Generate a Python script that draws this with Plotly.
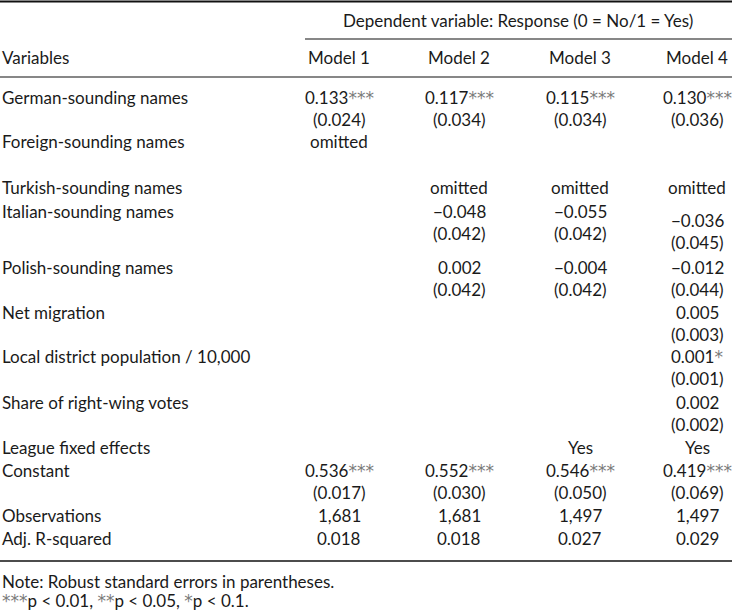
import plotly.graph_objects as go

# ---------------- data ----------------
dep_title = "Dependent variable: Response (0 = No/1 = Yes)"
header_var = "Variables"
models = ["Model 1", "Model 2", "Model 3", "Model 4"]
variables = [
    "German-sounding names",
    "Foreign-sounding names",
    "Turkish-sounding names",
    "Italian-sounding names",
    "Polish-sounding names",
    "Net migration",
    "Local district population / 10,000",
    "Share of right-wing votes",
    "League fixed effects",
    "Constant",
    "Observations",
    "Adj. R-squared",
]
m1_coef = ["0.133", "omitted", "", "", "", "", "", "", "", "0.536", "1,681", "0.018"]
m1_star = ["***", "", "", "", "", "", "", "", "", "***", "", ""]
m1_se = ["0.024", "", "", "", "", "", "", "", "", "0.017", "", ""]

m2_coef = ["0.117", "", "omitted", "\u22120.048", "0.002", "", "", "", "", "0.552", "1,681", "0.018"]
m2_star = ["***", "", "", "", "", "", "", "", "", "***", "", ""]
m2_se = ["0.034", "", "", "0.042", "0.042", "", "", "", "", "0.030", "", ""]

m3_coef = ["0.115", "", "omitted", "\u22120.055", "\u22120.004", "", "", "", "Yes", "0.546", "1,497", "0.027"]
m3_star = ["***", "", "", "", "", "", "", "", "", "***", "", ""]
m3_se = ["0.034", "", "", "0.042", "0.042", "", "", "", "", "0.050", "", ""]

m4_coef = ["0.130", "", "omitted", "\u22120.036", "\u22120.012", "0.005", "0.001", "0.002", "Yes", "0.419", "1,497", "0.029"]
m4_star = ["***", "", "", "", "", "", "*", "", "", "***", "", ""]
m4_se = ["0.036", "", "", "0.045", "0.044", "0.003", "0.001", "0.002", "", "0.069", "", ""]

note_text = "Note: Robust standard errors in parentheses."
sig_levels = [("***", "p < 0.01"), ("**", "p < 0.05"), ("*", "p < 0.1")]

# ---------------- layout ----------------
W, H = 732, 610
FONT = "Lato, 'Open Sans', sans-serif"
FS = 17
STAR_STYLE = "color:#7a7a7a;font-family:DejaVu Sans"

row_y = [97, 141, 187, 211, 267, 312, 356, 402, 447, 470, 515, 538]
se_gap = 22
col_x = [339, 459, 580, 697]
# model 4 Italian row sits lower in the original
cell_y_shift = {(3, 3): 9}

def stars(s):
    return f"<span style='{STAR_STYLE}'>{s}</span>" if s else ""

ann = []

def add(text, x, y, anchor="center"):
    ann.append(dict(text=text, x=x, y=y, xref="x", yref="y", xanchor=anchor,
                    yanchor="middle", showarrow=False,
                    font=dict(family=FONT, size=FS, color="#1a1a1a")))

add(dep_title, 518, 20)
add(header_var, 0, 57, "left")
for j, m in enumerate(models):
    add(m, col_x[j], 57)

for i, v in enumerate(variables):
    add(v, 0, row_y[i], "left")

cols = [(m1_coef, m1_star, m1_se), (m2_coef, m2_star, m2_se),
        (m3_coef, m3_star, m3_se), (m4_coef, m4_star, m4_se)]
for j, (coef, star, se) in enumerate(cols):
    for i in range(len(variables)):
        dy = cell_y_shift.get((j, i), 0)
        if coef[i]:
            add(coef[i] + stars(star[i]), col_x[j], row_y[i] + dy)
        if se[i]:
            add(f"({se[i]})", col_x[j], row_y[i] + dy + se_gap)

add(note_text, 0, 581, "left")
add(", ".join(stars(s) + p for s, p in sig_levels) + ".", 0, 600, "left")

shapes = [
    dict(type="line", x0=0, x1=W, y0=1.5, y1=1.5, line=dict(color="#111", width=2)),
    dict(type="line", x0=305, x1=W, y0=39, y1=39, line=dict(color="#111", width=1.2)),
    dict(type="line", x0=0, x1=W, y0=77, y1=77, line=dict(color="#111", width=1.2)),
    dict(type="line", x0=0, x1=W, y0=561, y1=561, line=dict(color="#111", width=1.5)),
]

fig = go.Figure()
fig.update_layout(
    width=W, height=H,
    margin=dict(l=0, r=0, t=0, b=0),
    paper_bgcolor="white", plot_bgcolor="white",
    xaxis=dict(range=[0, W], visible=False, fixedrange=True),
    yaxis=dict(range=[H, 0], visible=False, fixedrange=True),
    annotations=ann, shapes=shapes, showlegend=False,
)
fig.write_html(
    "out.html",
    config={"displayModeBar": False},
    post_script="document.body.style.margin='0';document.body.style.overflow='hidden';",
)
